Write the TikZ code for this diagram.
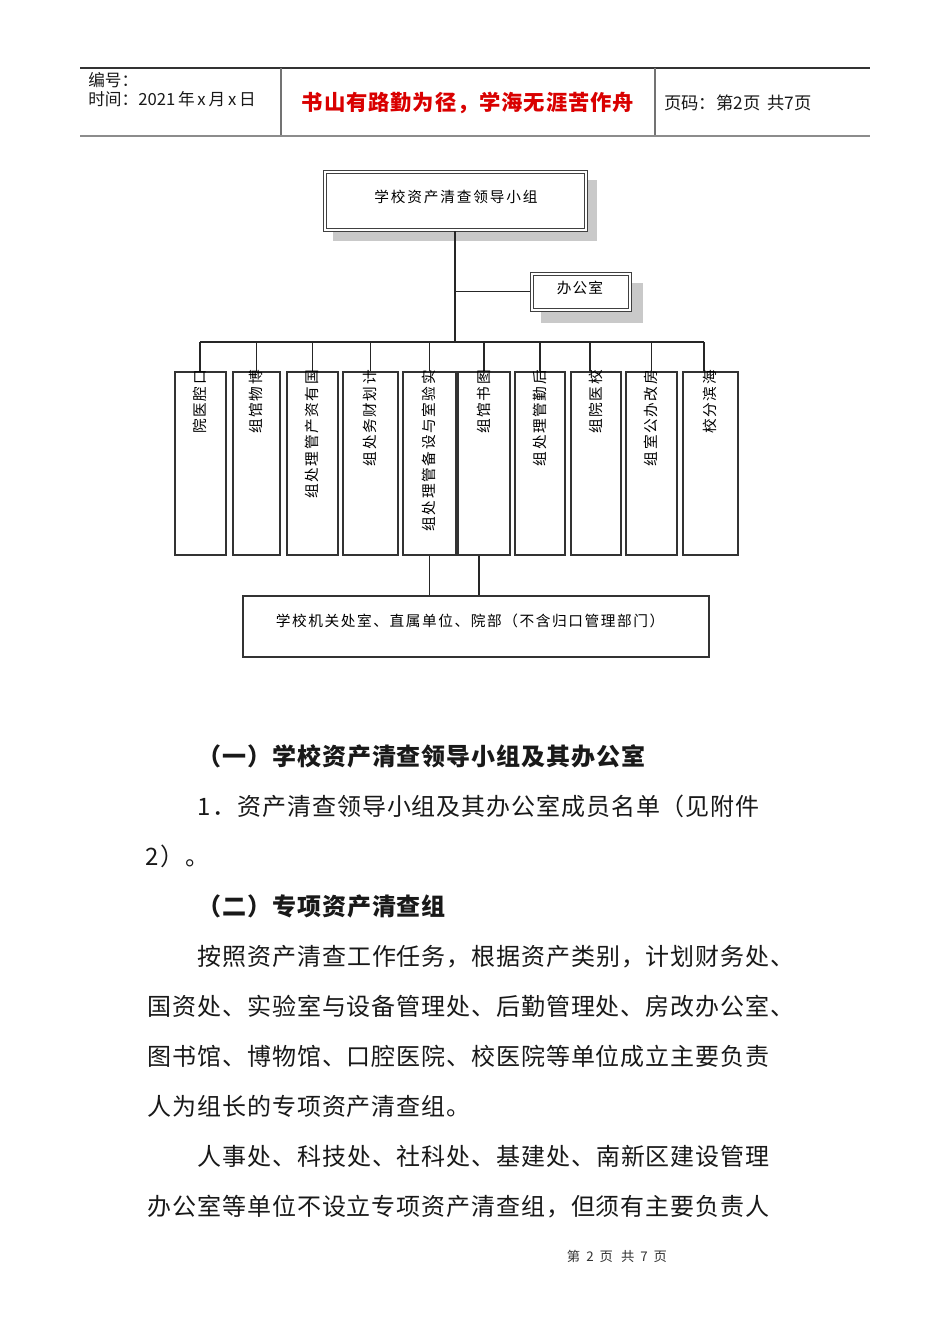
\documentclass[tikz,border=0pt]{standalone}
\usepackage{fontspec}
\setmainfont{Noto Sans CJK SC}
\usetikzlibrary{fit}
\newdimen\upx \upx=0.75pt
\makeatletter
\def\spr#1#2{\def\spr@w{#1}\spr@loop#2\spr@stop}
\def\spr@stop{\spr@stop}
\def\spr@loop#1{\ifx#1\spr@stop\else\makebox[\spr@w]{#1}\expandafter\spr@loop\fi}
\makeatother
\tikzset{
  conn/.style={draw=black!85, line width=1pt},
  cbox/.style={draw=black!80, line width=0.9pt, inner sep=0pt, fill=white},
  dbox/.style={draw=black!75, line width=0.7pt, inner sep=0pt, fill=white},
  innerline/.style={draw=black!75, line width=0.7pt},
  shadowbox/.style={fill=black!21, draw=none},
  vtext/.style={rotate=90, anchor=east, inner sep=0pt, text height=0.88em, text depth=0.12em, font=\fontsize{11pt}{12pt}\selectfont},
  htext/.style={inner sep=0pt, font=\fontsize{11pt}{12pt}\selectfont},
  body/.style={anchor=base west, inner sep=0pt, font=\fontsize{18pt}{20pt}\selectfont, text=black!90},
  bodyb/.style={body, font=\fontsize{18pt}{20pt}\selectfont\bfseries},
  hdr/.style={anchor=west, inner sep=0pt, font=\fontsize{12.5pt}{14pt}\selectfont, text=black!90},
}
\begin{document}
\begin{tikzpicture}[x=0.75pt,y=-0.75pt]
\useasboundingbox (0,0) rectangle (950,1344);
\fill[white] (0,0) rectangle (950,1344);

% header
\draw[black!80, line width=0.8pt] (80,68) -- (870,68);
\draw[black!45, line width=1.6pt] (80,136) -- (870,136);
\draw[black!55, line width=1.2pt] (281,68) -- (281,135);
\draw[black!55, line width=1.2pt] (655,68) -- (655,135);
\node[hdr] (hnum) at (88,80) {编号：};
\node[hdr] (htime) at (88,99) {时间：2021\,年\,x\,月\,x\,日};
\node[inner sep=0pt, text=red!85!black, font=\fontsize{16pt}{18pt}\selectfont\bfseries] (motto) at (468,103) {\spr{22.2\upx}{书山有路勤为径，学海无涯苦作舟}};
\node[hdr, font=\fontsize{13pt}{14pt}\selectfont] (hpage) at (664,103) {页码：第2页\, 共7页};

% top box
\fill[shadowbox] (333,180) rectangle (597,241);
\node[dbox, fit={(323,170)(587,231)}] (top) {};
\draw[innerline] ([shift={(2.6pt,-2.6pt)}]top.north west) rectangle ([shift={(-2.6pt,2.6pt)}]top.south east);
\node[htext] (toplbl) at (456,197) {\spr{16.5\upx}{学校资产清查领导小组}};

% office box
\fill[shadowbox] (541,283) rectangle (643,323);
\node[dbox, fit={(530,272)(631,311)}] (office) {};
\draw[innerline] ([shift={(2.6pt,-2.6pt)}]office.north west) rectangle ([shift={(-2.6pt,2.6pt)}]office.south east);
\node[htext] (officelbl) at (580,288) {\spr{15.7\upx}{办公室}};

% child boxes
\node[cbox, fit={(175,372)(226,555)}] (b1) {};
\node[cbox, fit={(233,372)(280,555)}] (b2) {};
\node[cbox, fit={(287,372)(338,555)}] (b3) {};
\node[cbox, fit={(343,372)(398,555)}] (b4) {};
\node[cbox, fit={(403,372)(456,555)}] (b5) {};
\node[cbox, fit={(458,372)(510,555)}] (b6) {};
\node[cbox, fit={(515,372)(565,555)}] (b7) {};
\node[cbox, fit={(571,372)(621,555)}] (b8) {};
\node[cbox, fit={(626,372)(677,555)}] (b9) {};
\node[cbox, fit={(683,372)(738,555)}] (b10) {};

% bottom box
\node[cbox, fit={(243,596)(709,657)}] (bottom) {};
\node[htext] (bottomlbl) at (470,621) {\spr{16.25\upx}{学校机关处室、直属单位、院部（不含归口管理部门）}};

% connectors
\coordinate (bus) at (455,342);
\coordinate (busL) at (200,342);
\coordinate (busR) at (704,342);
\draw[conn, line width=1.3pt] (top.south) -- (bus);
\draw[conn, line width=1.2pt] (top.south |- office.west) -- (office.west);
\draw[conn] (busL) -- (busR);
\draw[conn] (busL) -- (busL |- b1.north);
\foreach \b in {b2,b3,b4,b5,b6,b7,b9} {
  \draw[conn] (\b.north |- bus) -- (\b.north);
}
\draw[conn] ([xshift=-4.5pt]b8.north |- bus) -- ([xshift=-4.5pt]b8.north);
\draw[conn] (busR) -- (busR |- b10.north);
\draw[conn, line width=0.8pt] (b5.south) -- (b5.south |- bottom.north);
\draw[conn, line width=0.8pt] ([xshift=-3.75pt]b6.south) -- ([xshift=-3.75pt]b6.south |- bottom.north);

% vertical texts
\node[vtext] (t1) at (b1.north |- 0,369) {\spr{16.3\upx}{院医腔口}};
\node[vtext] (t2) at (b2.north |- 0,369) {\spr{16.3\upx}{组馆物博}};
\node[vtext] (t3) at (b3.north |- 0,369) {\spr{16.3\upx}{组处理管产资有国}};
\node[vtext] (t4) at (b4.north |- 0,369) {\spr{16.3\upx}{组处务财划计}};
\node[vtext] (t5) at (b5.north |- 0,369) {\spr{16.3\upx}{组处理管备设与室验实}};
\node[vtext] (t6) at (b6.north |- 0,369) {\spr{16.3\upx}{组馆书图}};
\node[vtext] (t7) at (b7.north |- 0,369) {\spr{16.3\upx}{组处理管勤后}};
\node[vtext] (t8) at (b8.north |- 0,369) {\spr{16.3\upx}{组院医校}};
\node[vtext] (t9) at (b9.north |- 0,369) {\spr{16.3\upx}{组室公办改房}};
\node[vtext] (t10) at (b10.north |- 0,369) {\spr{16.3\upx}{校分滨海}};

% body text
\node[bodyb] (l1) at (197,765) {\spr{24.9\upx}{（一）学校资产清查领导小组及其办公室}};
\node[body] (l2) at (197,815) {\makebox[15\upx][l]{1}\spr{24.9\upx}{．资产清查领导小组及其办公室成员名单（见附件}};
\node[body] (l3) at (145,865) {\makebox[15\upx][l]{2}\spr{24.9\upx}{）。}};
\node[bodyb] (l4) at (197,915) {\spr{24.9\upx}{（二）专项资产清查组}};
\node[body] (l5) at (197,965) {\spr{24.9\upx}{按照资产清查工作任务，根据资产类别，计划财务处、}};
\node[body] (l6) at (147,1015) {\spr{24.9\upx}{国资处、实验室与设备管理处、后勤管理处、房改办公室、}};
\node[body] (l7) at (147,1065) {\spr{24.9\upx}{图书馆、博物馆、口腔医院、校医院等单位成立主要负责}};
\node[body] (l8) at (147,1115) {\spr{24.9\upx}{人为组长的专项资产清查组。}};
\node[body] (l9) at (197,1165) {\spr{24.9\upx}{人事处、科技处、社科处、基建处、南新区建设管理}};
\node[body] (l10) at (147,1215) {\spr{24.9\upx}{办公室等单位不设立专项资产清查组，但须有主要负责人}};

% footer
\node[inner sep=0pt, font=\fontsize{10pt}{11pt}\selectfont, text=black!80] (footer) at (617,1256) {第\hspace{0.45em}2\hspace{0.45em}页\hspace{0.6em}共\hspace{0.45em}7\hspace{0.45em}页};
\end{tikzpicture}
\end{document}
